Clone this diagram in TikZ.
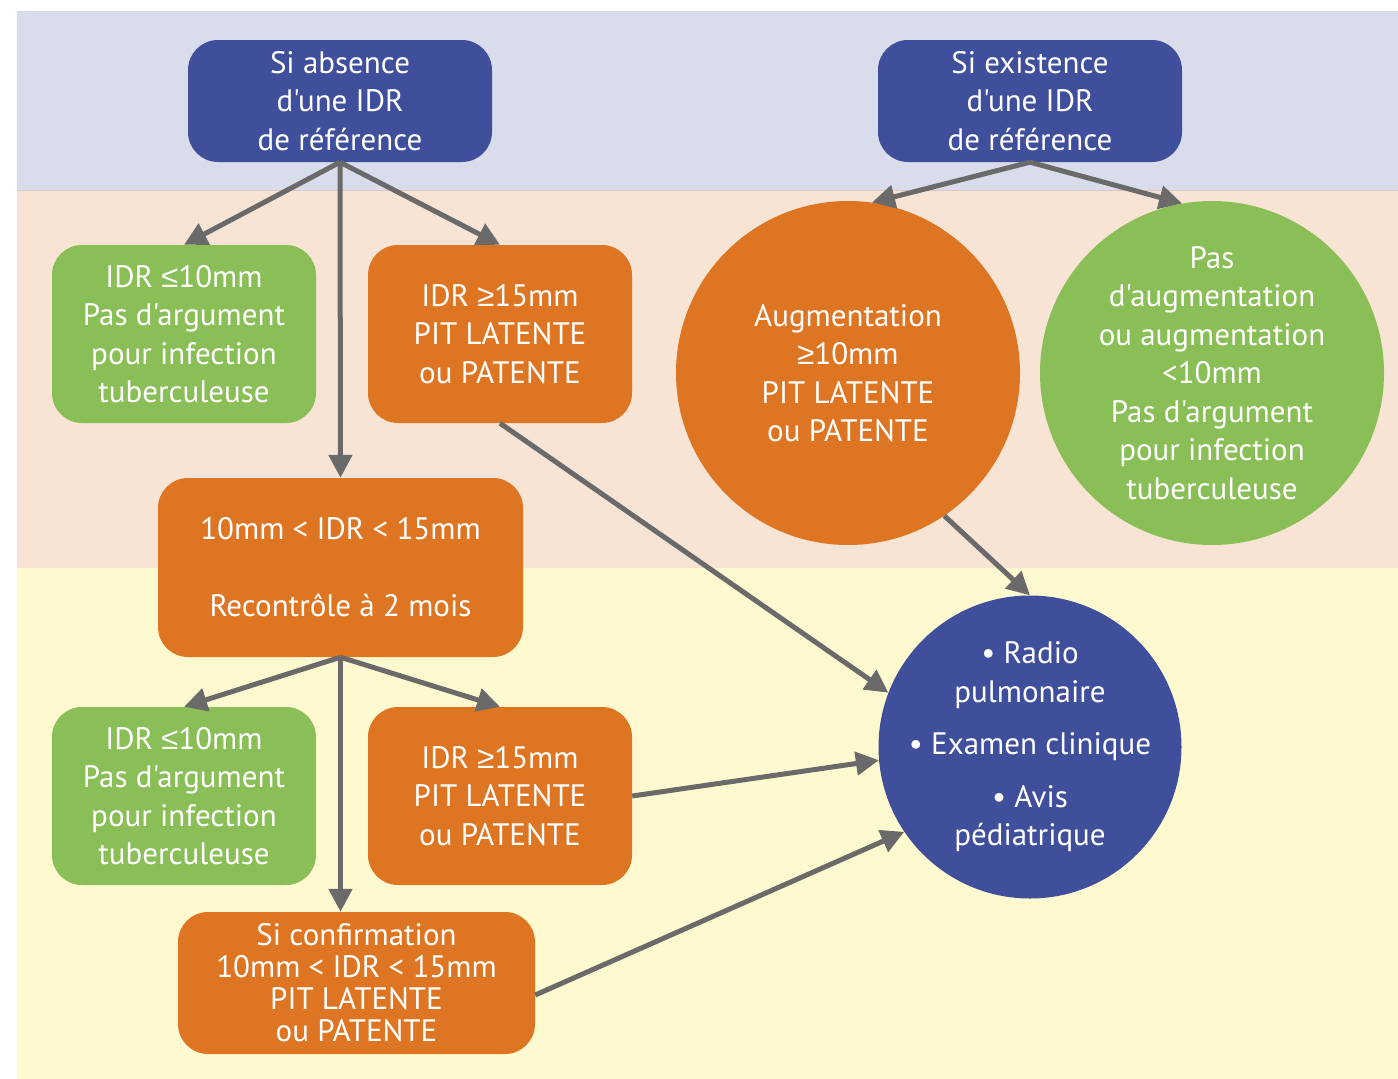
\documentclass[tikz,border=0pt]{standalone}
\usepackage{fontspec}
\setmainfont{PT Sans}[Ligatures=TeXOff]
\newfontfamily\symf{Liberation Sans}
\newcommand{\myle}{{\symf ≤}}
\newcommand{\myge}{{\symf ≥}}
\usetikzlibrary{arrows.meta}
\definecolor{cblue}{HTML}{3F4F9C}
\definecolor{corange}{HTML}{DE7522}
\definecolor{cgreen}{HTML}{8ABE56}
\definecolor{cgray}{HTML}{6A6A6A}
\definecolor{clav}{HTML}{D9DCEB}
\definecolor{cpeach}{HTML}{F8E4D4}
\definecolor{cyel}{HTML}{FEF9CE}
\definecolor{cline}{HTML}{DCC8CC}
\begin{document}
\begin{tikzpicture}[x=1pt,y=-1pt,
  txt/.style={align=center, text=white, inner sep=0pt, font=\fontsize{31}{38.5}\selectfont},
  box/.style={txt, rectangle, rounded corners=30pt},
  circ/.style={circle, inner sep=0pt},
  arr/.style={draw=cgray, line width=5pt, -{Triangle[length=23pt,width=23pt]}}]
\useasboundingbox (0,0) rectangle (1398,1079);
\fill[clav] (17,11) rectangle (1398,190);
\fill[cpeach] (17,190) rectangle (1398,568);
\fill[cyel] (17,568) rectangle (1398,1079);
\draw[cline, line width=1pt] (17,190) -- (1398,190);

\node[box, fill=cblue, minimum width=304pt, minimum height=122pt] (b1) at (340,101) {Si absence\\d'une IDR\\de référence};
\node[box, fill=cblue, minimum width=304pt, minimum height=122pt] (b2) at (1030,101) {Si existence\\d'une IDR\\de référence};
\node[box, fill=cgreen, minimum width=264pt, minimum height=178pt] (g1) at (184,334) {IDR \myle10mm\\Pas d'argument\\pour infection\\tuberculeuse};
\node[box, fill=corange, minimum width=264pt, minimum height=178pt] (o1) at (500,334) {IDR \myge15mm\\PIT LATENTE\\ou PATENTE};
\node[circ, fill=corange, minimum size=344pt] (aug) at (848,373) {};
\node[txt] (augt) at (aug.center) {Augmentation\\\myge10mm\\PIT LATENTE\\ou PATENTE};
\node[circ, fill=cgreen, minimum size=344pt] (pas) at (1212,373) {};
\node[txt] (past) at (pas.center) {Pas\\d'augmentation\\ou augmentation\\<10mm\\Pas d'argument\\pour infection\\tuberculeuse};
\node[box, fill=corange, minimum width=365pt, minimum height=179pt] (o2) at (340.5,567.5) {10mm < IDR < 15mm\\[38.5pt]Recontrôle à 2 mois};
\node[box, fill=cgreen, minimum width=264pt, minimum height=178pt] (g2) at (184,796) {IDR \myle10mm\\Pas d'argument\\pour infection\\tuberculeuse};
\node[box, fill=corange, minimum width=264pt, minimum height=178pt] (o3) at (500,796) {IDR \myge15mm\\PIT LATENTE\\ou PATENTE};
\node[box, fill=corange, minimum width=357pt, minimum height=142pt, font=\fontsize{31}{32}\selectfont] (conf) at (356.5,983) {Si confirmation\\10mm < IDR < 15mm\\PIT LATENTE\\ou PATENTE};
\node[circ, fill=cblue, minimum size=303pt] (rad) at (1030,747) {};
\node[txt] (radt) at (rad.center) {• Radio\\pulmonaire\\[14pt]• Examen clinique\\[14pt]• Avis\\pédiatrique};

\draw[arr] (b1.south) -- (g1.north);
\draw[arr] (b1.south) -- (o1.north);
\draw[arr] (b1.south) -- (o2.north);
\draw[arr] (b2.south) -- (aug.82);
\draw[arr] (b2.south) -- (pas.100);
\draw[arr] (o1.south) -- (rad.159);
\draw[arr] (aug.-56) -- (rad.north);
\draw[arr] (o2.south) -- (g2.north);
\draw[arr] (o2.south) -- (o3.north);
\draw[arr] (o2.south) -- (o2.south |- conf.north);
\draw[arr] (o3.east) -- (rad.185);
\draw[arr] ([yshift=-12pt]conf.east) -- (rad.214);
\end{tikzpicture}
\end{document}
